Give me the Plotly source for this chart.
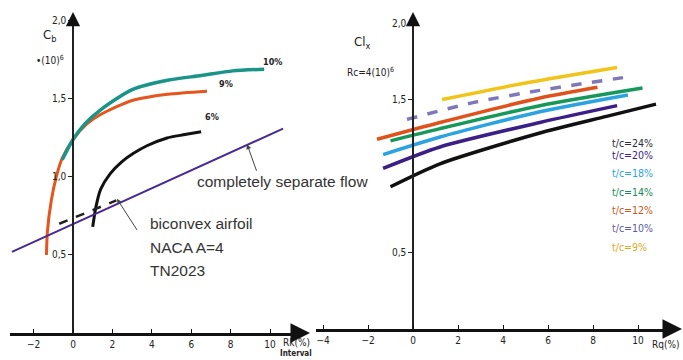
import plotly.graph_objects as go

W, H = 683, 360

# ---------------- Left panel data ----------------
c10_x = [-0.55, 0.0, 0.6, 1.4, 3.0, 4.8, 6.5, 8.1, 9.7]
c10_y = [1.11, 1.24, 1.34, 1.43, 1.56, 1.62, 1.65, 1.68, 1.69]
c9_x = [-1.35, -1.3, -1.1, -0.85, -0.55, 0.0, 0.7, 1.4, 3.0, 4.8, 6.8]
c9_y = [0.50, 0.65, 0.85, 1.0, 1.12, 1.24, 1.34, 1.40, 1.49, 1.53, 1.55]
c6_x = [1.0, 1.15, 1.4, 1.88, 2.5, 3.05, 3.75, 4.77, 5.6, 6.5]
c6_y = [0.68, 0.80, 0.92, 1.02, 1.10, 1.15, 1.20, 1.25, 1.27, 1.29]
bic_x = [-0.7, 2.2]
bic_y = [0.70, 0.85]
sep_x = [-3.1, 10.66]
sep_y = [0.52, 1.31]

left_xticks = [-2, 0, 2, 4, 6, 8, 10]
left_yticks = [0.5, 1.0, 1.5, 2.0]
left_yticktext = ["0,5", "1,0", "1,5", "2,0"]

# ---------------- Right panel data ----------------
series_names = ["t/c=24%", "t/c=20%", "t/c=18%", "t/c=14%", "t/c=12%", "t/c=10%", "t/c=9%"]
series_colors = ["#111111", "#3b1e86", "#2aa3e0", "#16985a", "#e0521c", "#7f78b8", "#f0c419"]
legend_text_colors = ["#2a2a3a", "#3b1e86", "#2aa3e0", "#16885a", "#c8561c", "#5a5aa0", "#e0a81a"]
series_dash = ["solid", "solid", "solid", "solid", "solid", "dash", "solid"]
r24_x = [-1.0, 1.2, 5.6, 8.6, 10.8]
r24_y = [0.93, 1.08, 1.28, 1.39, 1.47]
r20_x = [-1.33, 1.2, 5.64, 9.07]
r20_y = [1.05, 1.19, 1.35, 1.46]
r18_x = [-1.33, 1.2, 5.64, 9.55]
r18_y = [1.14, 1.255, 1.42, 1.53]
r14_x = [-1.0, 1.2, 5.64, 10.2]
r14_y = [1.23, 1.31, 1.46, 1.575]
r12_x = [-1.6, 1.2, 5.64, 8.2]
r12_y = [1.24, 1.35, 1.51, 1.58]
r10_x = [-0.27, 2.67, 5.64, 9.64]
r10_y = [1.37, 1.48, 1.56, 1.65]
r9_x = [1.29, 5.06, 9.07]
r9_y = [1.50, 1.61, 1.71]
right_x = [r24_x, r20_x, r18_x, r14_x, r12_x, r10_x, r9_x]
right_y = [r24_y, r20_y, r18_y, r14_y, r12_y, r10_y, r9_y]

right_xticks = [-4, -2, 0, 2, 4, 6, 8, 10]
right_yticks = [0.5, 1.5, 2.0]
right_yticktext = ["0,5", "1,5", "2,0"]

TICKFONT = dict(family="Liberation Sans Narrow, DejaVu Sans Condensed, sans-serif", size=10, color="#222")
TXT = dict(family="Liberation Sans, Arial, sans-serif", size=15.5, color="#333")

fig = go.Figure()

# left curves
fig.add_trace(go.Scatter(x=c9_x, y=c9_y, mode="lines", line=dict(color="#e4561e", width=3, shape="spline", smoothing=0.7), xaxis="x", yaxis="y"))
fig.add_trace(go.Scatter(x=c10_x, y=c10_y, mode="lines", line=dict(color="#1a9488", width=3.5, shape="spline", smoothing=0.7), xaxis="x", yaxis="y"))
fig.add_trace(go.Scatter(x=c6_x, y=c6_y, mode="lines", line=dict(color="#111", width=3, shape="spline", smoothing=0.6), xaxis="x", yaxis="y"))
fig.add_trace(go.Scatter(x=sep_x, y=sep_y, mode="lines", line=dict(color="#4a2a90", width=2), xaxis="x", yaxis="y", cliponaxis=False))
fig.add_trace(go.Scatter(x=bic_x, y=bic_y, mode="lines", line=dict(color="#222", width=2.5, dash="dash"), xaxis="x", yaxis="y"))

# right curves
for xs, ys, c, d in zip(right_x, right_y, series_colors, series_dash):
    fig.add_trace(go.Scatter(x=xs, y=ys, mode="lines", line=dict(color=c, width=3.5, dash=d, shape="spline", smoothing=0.7),
                             xaxis="x2", yaxis="y2"))

ann = []
# axis arrowheads (paper coordinates so they are never hidden)
ARR = dict(text="", showarrow=True, arrowhead=2, arrowsize=1.3, arrowwidth=3, arrowcolor="#111", standoff=0,
           xref="paper", yref="paper")
ann.append(dict(ARR, x=310 / W, y=27 / H, ax=-16, ay=0))
ann.append(dict(ARR, x=73 / W, y=348 / H, ax=0, ay=14, arrowwidth=2.2))
ann.append(dict(ARR, x=682 / W, y=31 / H, ax=-16, ay=0))
ann.append(dict(ARR, x=413 / W, y=348 / H, ax=0, ay=14, arrowwidth=2.2))

# left annotations
ann.append(dict(x=-1.2, y=1.904, xref="x", yref="y", text="C<sub>b</sub>", showarrow=False, font=dict(TICKFONT, size=13)))
ann.append(dict(x=-1.15, y=1.75, xref="x", yref="y", text="•(10)<sup>6</sup>", showarrow=False, font=dict(TICKFONT, size=10)))
ann.append(dict(x=10.1, y=1.737, xref="x", yref="y", text="<b>10%</b>", showarrow=False, font=dict(TICKFONT, size=9)))
ann.append(dict(x=7.77, y=1.596, xref="x", yref="y", text="<b>9%</b>", showarrow=False, font=dict(TICKFONT, size=9)))
ann.append(dict(x=7.06, y=1.385, xref="x", yref="y", text="<b>6%</b>", showarrow=False, font=dict(TICKFONT, size=9)))
ann.append(dict(x=296 / W, y=10 / H, xref="paper", yref="paper", showarrow=False, xanchor="center",
                yanchor="bottom", text="Rk(%)", font=TICKFONT))
ann.append(dict(x=296 / W, y=0, xref="paper", yref="paper", showarrow=False, xanchor="center",
                yanchor="bottom", text="<b>Interval</b>", font=dict(TICKFONT, size=8)))
ann.append(dict(x=6.19, y=0.968, xref="x", yref="y", text="completely separate flow", showarrow=False,
                xanchor="left", font=TXT))
ann.append(dict(x=8.83, y=1.21, ax=9.34, ay=1.03, xref="x", yref="y", axref="x", ayref="y", text="",
                showarrow=True, arrowhead=2, arrowsize=1, arrowwidth=1, arrowcolor="#444"))
for t, yy in zip(["biconvex airfoil", "NACA A=4", "TN2023"], [0.70, 0.55, 0.40]):
    ann.append(dict(x=3.81, y=yy, xref="x", yref="y", text=t, showarrow=False, xanchor="left", font=TXT))
ann.append(dict(x=2.23, y=0.86, ax=3.3, ay=0.65, xref="x", yref="y", axref="x", ayref="y", text="",
                showarrow=True, arrowhead=2, arrowsize=1, arrowwidth=1, arrowcolor="#444"))

# right annotations
ann.append(dict(x=-2.27, y=1.876, xref="x2", yref="y2", text="Cl<sub>x</sub>", showarrow=False, font=dict(TICKFONT, size=13)))
ann.append(dict(x=-1.91, y=1.68, xref="x2", yref="y2", text="Rc=4(10)<sup>6</sup>", showarrow=False, font=TICKFONT))
ann.append(dict(x=682 / W, y=8 / H, xref="paper", yref="paper", showarrow=False, xanchor="right",
                yanchor="bottom", text="Rq(%)", font=TICKFONT))
leg_y = [1.216, 1.137, 1.020, 0.895, 0.778, 0.660, 0.536]
for name, col, yy in zip(series_names, legend_text_colors, leg_y):
    ann.append(dict(x=8.76, y=yy, xref="x2", yref="y2", text=name, showarrow=False, xanchor="left",
                    font=dict(TICKFONT, size=10.5, color=col)))

fig.update_layout(
    width=W, height=H, margin=dict(l=0, r=0, t=0, b=0, autoexpand=False),
    paper_bgcolor="white", plot_bgcolor="white", showlegend=False,
    annotations=ann,
    xaxis=dict(domain=[10 / W, 302 / W], range=[-3.198, 11.62], anchor="y", automargin=False,
               showgrid=False, zeroline=False, showline=True, linecolor="#111", linewidth=3,
               ticks="inside", ticklen=4, tickcolor="#111", tickvals=left_xticks, tickfont=TICKFONT),
    yaxis=dict(domain=[27 / H, 340 / H], range=[0, 2.006], anchor="free", position=73 / W, automargin=False,
               showgrid=False, zeroline=False, showline=True, linecolor="#222", linewidth=1.5,
               ticks="outside", ticklen=4, tickcolor="#222", tickvals=left_yticks, ticktext=left_yticktext,
               tickfont=TICKFONT),
    xaxis2=dict(domain=[316 / W, 675 / W], range=[-4.311, 11.644], anchor="y2", automargin=False,
                showgrid=False, zeroline=False, showline=True, linecolor="#111", linewidth=3,
                ticks="inside", ticklen=4, tickcolor="#111", tickvals=right_xticks, tickfont=TICKFONT),
    yaxis2=dict(domain=[31 / H, 342 / H], range=[0, 2.033], anchor="free", position=413 / W, automargin=False,
                showgrid=False, zeroline=False, showline=True, linecolor="#222", linewidth=1.5,
                ticks="outside", ticklen=4, tickcolor="#222", tickvals=right_yticks, ticktext=right_yticktext,
                tickfont=TICKFONT),
)

fig.write_html("out.html")
